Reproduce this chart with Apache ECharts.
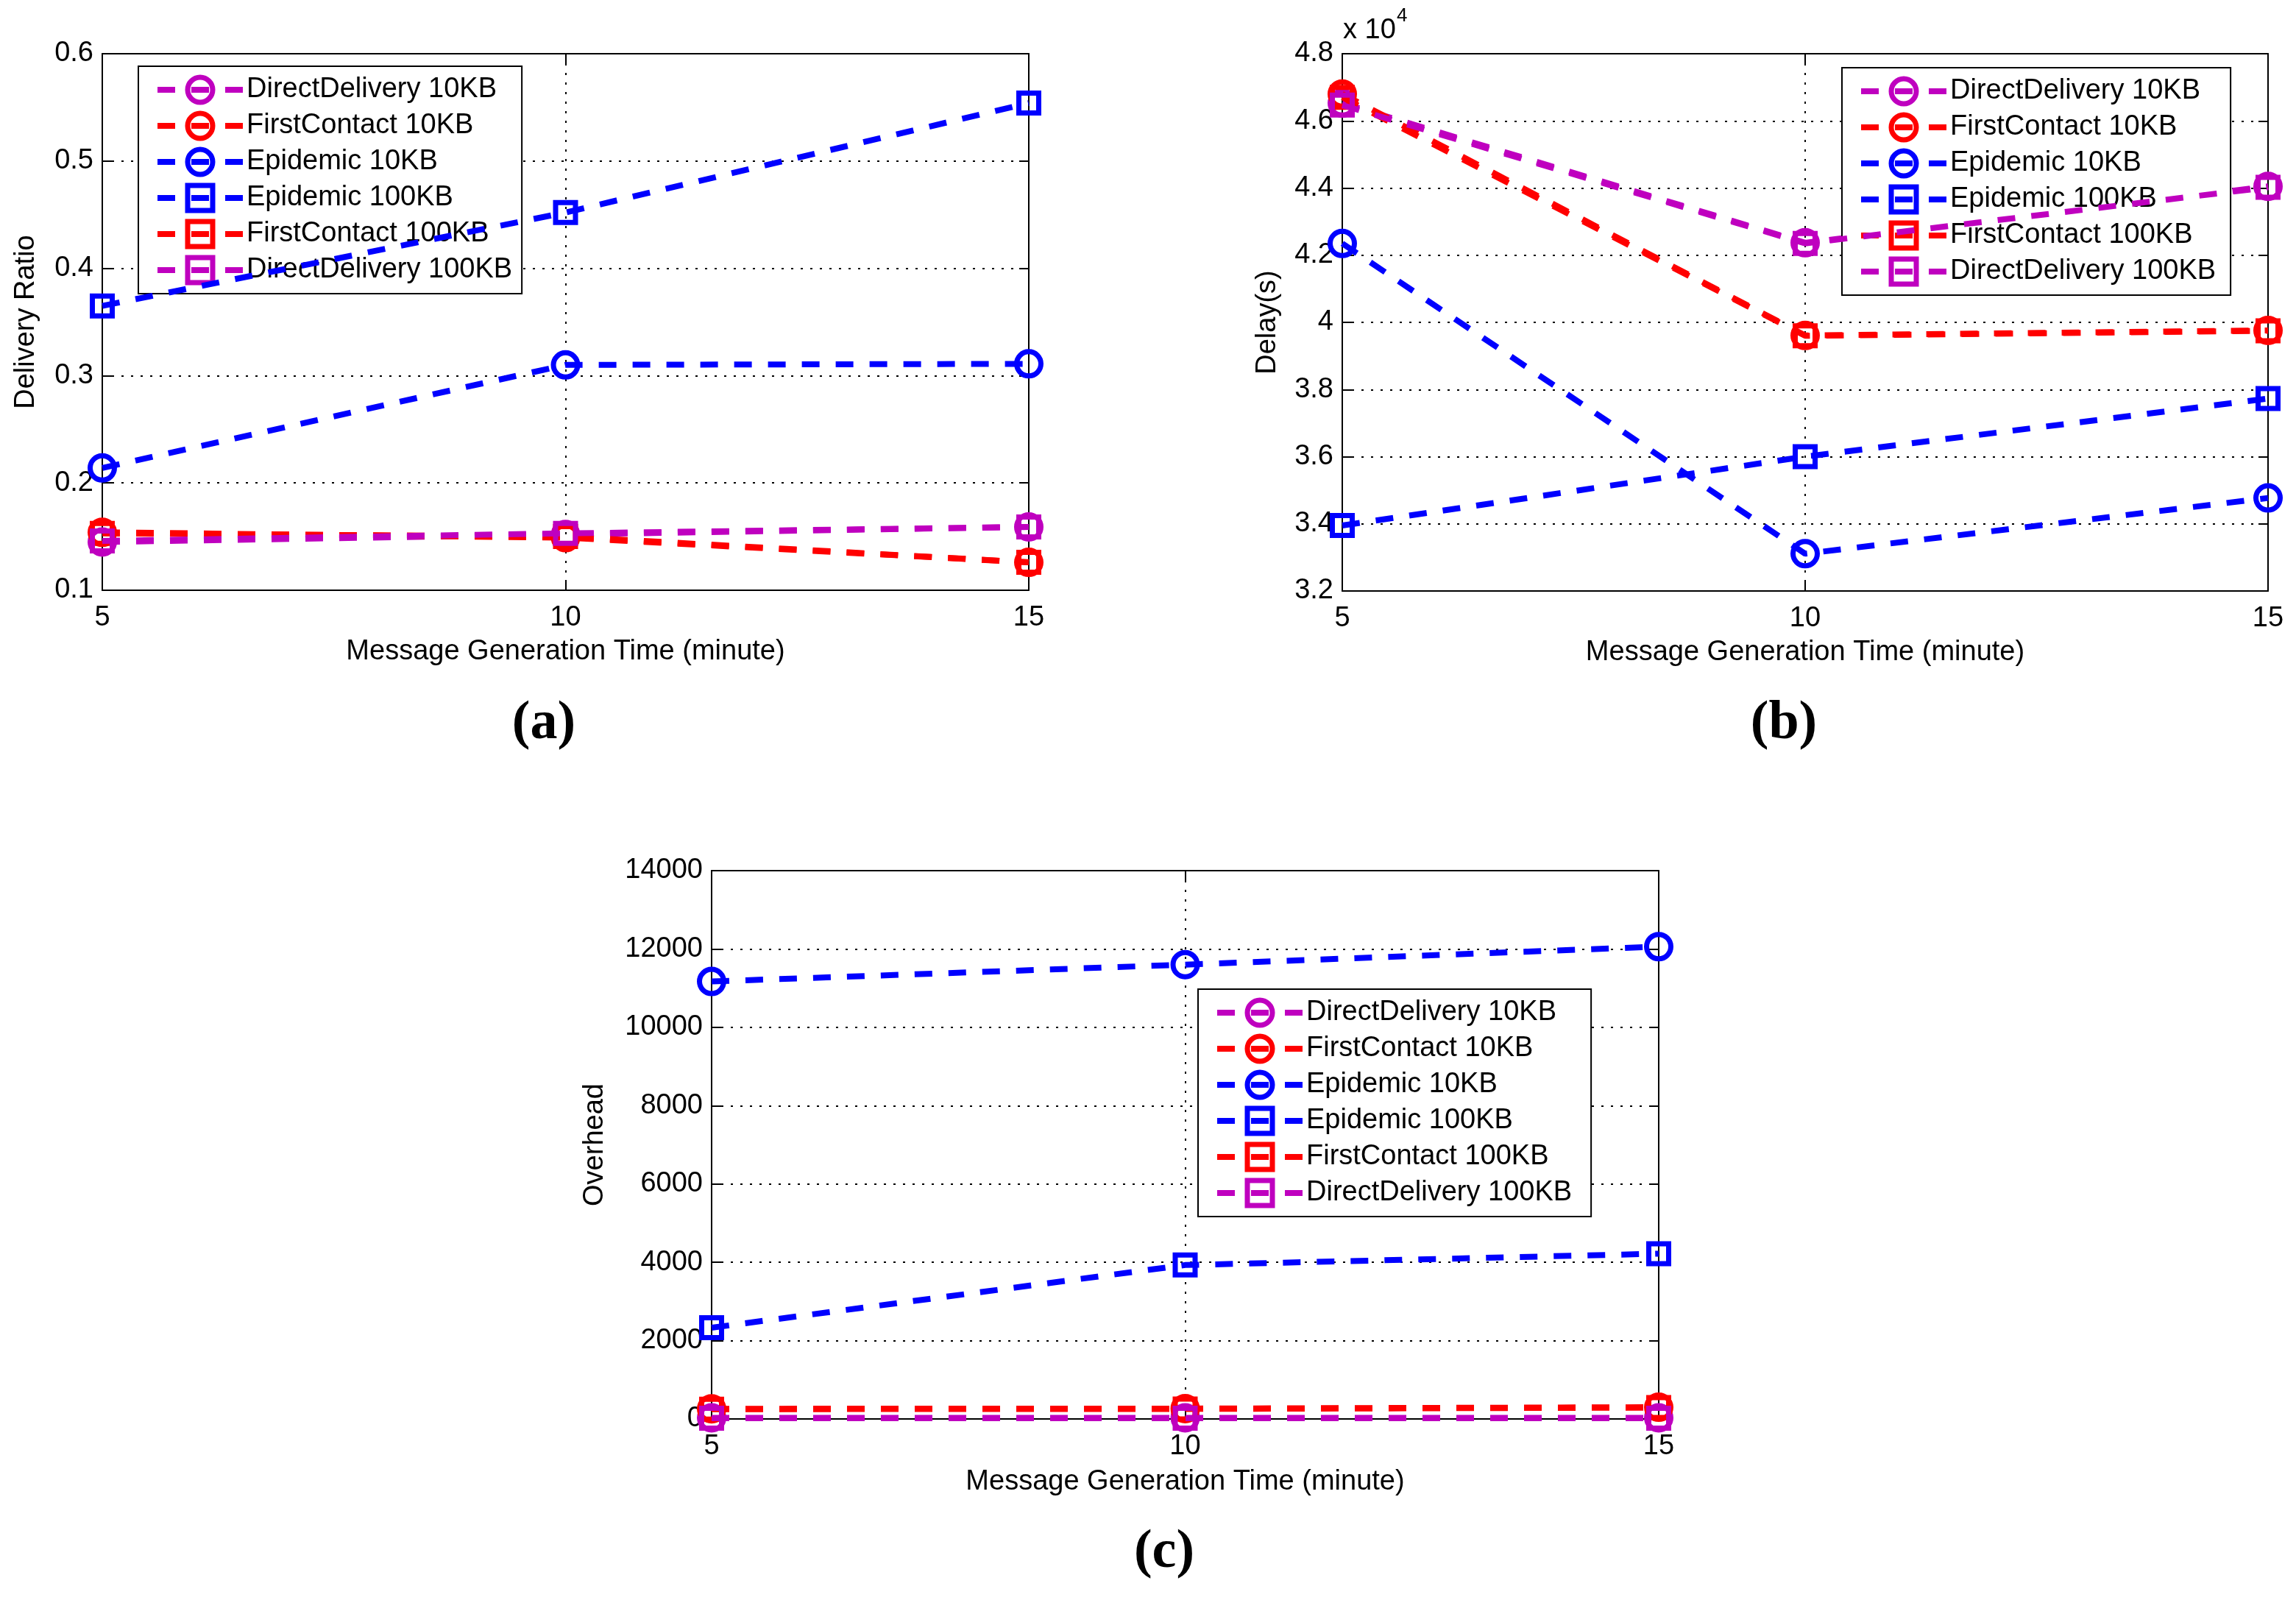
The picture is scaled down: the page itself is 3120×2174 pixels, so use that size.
<!DOCTYPE html>
<html>
<head>
<meta charset="utf-8">
<script src="https://cdn.jsdelivr.net/npm/echarts@6/dist/echarts.min.js"></script>
<style>
html,body{margin:0;padding:0;background:#fff;}
#chart{width:3120px;height:2174px;}
</style>
</head>
<body>
<div id="chart"></div>
<script>
// ---------- DATA ----------
const xValues = [5, 10, 15];
const seriesNames = ['DirectDelivery 10KB', 'FirstContact 10KB', 'Epidemic 10KB', 'Epidemic 100KB', 'FirstContact 100KB', 'DirectDelivery 100KB'];
const seriesColors = ['#BF00BF', '#FF0000', '#0000FF', '#0000FF', '#FF0000', '#BF00BF'];
const seriesSymbols = ['circle', 'circle', 'circle', 'rect', 'rect', 'rect'];

// (a) Delivery Ratio
const ratioDD10  = [0.145, 0.152, 0.159];
const ratioFC10  = [0.154, 0.149, 0.126];
const ratioE10   = [0.214, 0.310, 0.311];
const ratioE100  = [0.365, 0.452, 0.554];
const ratioFC100 = [0.153, 0.150, 0.126];
const ratioDD100 = [0.146, 0.153, 0.159];

// (b) Delay (s)
const delayDD10  = [46530, 42370, 44050];
const delayFC10  = [46800, 39610, 39760];
const delayE10   = [42350, 33110, 34770];
const delayE100  = [33950, 36000, 37730];
const delayFC100 = [46700, 39600, 39750];
const delayDD100 = [46470, 42350, 44020];

// (c) Overhead
const ovhDD10  = [30, 30, 30];
const ovhFC10  = [260, 265, 300];
const ovhE10   = [11170, 11600, 12060];
const ovhE100  = [2330, 3930, 4220];
const ovhFC100 = [250, 255, 290];
const ovhDD100 = [20, 20, 20];

const ratioTicks = {min: 0.1, max: 0.6, interval: 0.1};
const delayTicks = {min: 32000, max: 48000, interval: 2000};
const ovhTicks = {min: 0, max: 14000, interval: 2000};
const xTitle = 'Message Generation Time (minute)';
const yTitles = ['Delivery Ratio', 'Delay(s)', 'Overhead'];
const captions = ['(a)', '(b)', '(c)'];

// ---------- CHART ----------
const FONT = 'Liberation Sans';
const FS = 38;
const LW = 8;
const BW = 7;
const DASH = [24, 22];
const chart = echarts.init(document.getElementById('chart'), null, {renderer: 'canvas'});

const panels = [
  {grid: {left: 139, top: 73, width: 1259, height: 729}, ticks: ratioTicks,
   data: [ratioDD10, ratioFC10, ratioE10, ratioE100, ratioFC100, ratioDD100],
   yGap: 84, xGap: 65, legend: {left: 188, top: 90, padR: 13}, fmt: v => String(+v.toFixed(1))},
  {grid: {left: 1824, top: 73, width: 1258, height: 730}, ticks: delayTicks,
   data: [delayDD10, delayFC10, delayE10, delayE100, delayFC100, delayDD100],
   yGap: 82, xGap: 65, legend: {left: 2503, top: 92, padR: 20}, fmt: v => String(+(v / 10000).toFixed(1))},
  {grid: {left: 967, top: 1183, width: 1287, height: 745}, ticks: ovhTicks,
   data: [ovhDD10, ovhFC10, ovhE10, ovhE100, ovhFC100, ovhDD100],
   yGap: 139, xGap: 67, legend: {left: 1628, top: 1344, padR: 26}, fmt: v => String(v)}
];

const grids = [], xAxes = [], yAxes = [], series = [], legends = [];
const axisLineStyle = {color: '#000', width: 2};
const gridDots = {color: '#000', width: 2, type: [3, 10]};

panels.forEach((p, i) => {
  grids.push(Object.assign({containLabel: false}, p.grid));
  xAxes.push({
    type: 'value', gridIndex: i, min: 5, max: 15, interval: 5, position: 'bottom',
    axisLine: {show: true, onZero: false, lineStyle: axisLineStyle},
    axisTick: {show: true, inside: true, length: 13, lineStyle: axisLineStyle},
    axisLabel: {show: true, color: '#000', fontFamily: FONT, fontSize: FS, margin: 19},
    splitLine: {show: true, lineStyle: gridDots},
    name: xTitle, nameLocation: 'middle', nameGap: p.xGap,
    nameTextStyle: {color: '#000', fontFamily: FONT, fontSize: FS}
  });
  yAxes.push({
    type: 'value', gridIndex: i, min: p.ticks.min, max: p.ticks.max, interval: p.ticks.interval, position: 'left',
    axisLine: {show: true, onZero: false, lineStyle: axisLineStyle},
    axisTick: {show: true, inside: true, length: 13, lineStyle: axisLineStyle},
    axisLabel: {show: true, color: '#000', fontFamily: FONT, fontSize: FS, margin: 12, formatter: p.fmt},
    splitLine: {show: true, lineStyle: gridDots},
    name: yTitles[i], nameLocation: 'middle', nameGap: p.yGap, nameRotate: 90,
    nameTextStyle: {color: '#000', fontFamily: FONT, fontSize: FS}
  });
  legends.push({
    show: true, orient: 'vertical', left: p.legend.left, top: p.legend.top,
    data: seriesNames, selectedMode: false,
    itemWidth: 116, itemHeight: 42.5, itemGap: 7, itemTextGap: 18,
    padding: [11, p.legend.padR, 11, 22],
    backgroundColor: '#fff', borderColor: '#000', borderWidth: 2,
    lineStyle: {width: LW, type: DASH},
    itemStyle: {borderWidth: BW},
    textStyle: {color: '#000', fontFamily: FONT, fontSize: FS, lineHeight: 42}
  });
});
panels.forEach((p, i) => {
  xAxes.push({
    type: 'value', gridIndex: i, min: 5, max: 15, interval: 5, position: 'top',
    axisLine: {show: true, onZero: false, lineStyle: axisLineStyle},
    axisTick: {show: true, inside: true, length: 13, lineStyle: axisLineStyle},
    axisLabel: {show: false}, splitLine: {show: false}
  });
  yAxes.push({
    type: 'value', gridIndex: i, min: p.ticks.min, max: p.ticks.max, interval: p.ticks.interval, position: 'right',
    axisLine: {show: true, onZero: false, lineStyle: axisLineStyle},
    axisTick: {show: true, inside: true, length: 13, lineStyle: axisLineStyle},
    axisLabel: {show: false}, splitLine: {show: false}
  });
});

panels.forEach((p, i) => {
  p.data.forEach((vals, k) => {
    const isCircle = seriesSymbols[k] === 'circle';
    series.push({
      type: 'line', name: seriesNames[k], xAxisIndex: i, yAxisIndex: i,
      data: xValues.map((x, j) => [x, vals[j]]),
      symbol: seriesSymbols[k], symbolSize: isCircle ? 33 : 27,
      showSymbol: true, clip: false, z: 2 + k,
      lineStyle: {color: seriesColors[k], width: LW, type: DASH},
      itemStyle: {color: 'rgba(255,255,255,0)', borderColor: seriesColors[k], borderWidth: BW},
      emphasis: {disabled: true}
    });
  });
});

const capFont = 'bold 74px "Liberation Serif"';
const graphics = [
  {type: 'text', style: {text: captions[0], x: 739, y: 984, align: 'center', verticalAlign: 'middle', font: capFont, fill: '#000'}},
  {type: 'text', style: {text: captions[1], x: 2424, y: 984, align: 'center', verticalAlign: 'middle', font: capFont, fill: '#000'}},
  {type: 'text', style: {text: captions[2], x: 1582, y: 2110, align: 'center', verticalAlign: 'middle', font: capFont, fill: '#000'}},
  {type: 'text', style: {text: 'x 10', x: 1825, y: 42, align: 'left', verticalAlign: 'middle', font: '38px "Liberation Sans"', fill: '#000'}},
  {type: 'text', style: {text: '4', x: 1898, y: 22, align: 'left', verticalAlign: 'middle', font: '26px "Liberation Sans"', fill: '#000'}}
];

chart.setOption({
  animation: false,
  backgroundColor: '#fff',
  grid: grids,
  xAxis: xAxes,
  yAxis: yAxes,
  legend: legends,
  series: series,
  graphic: graphics
});
</script>
</body>
</html>
